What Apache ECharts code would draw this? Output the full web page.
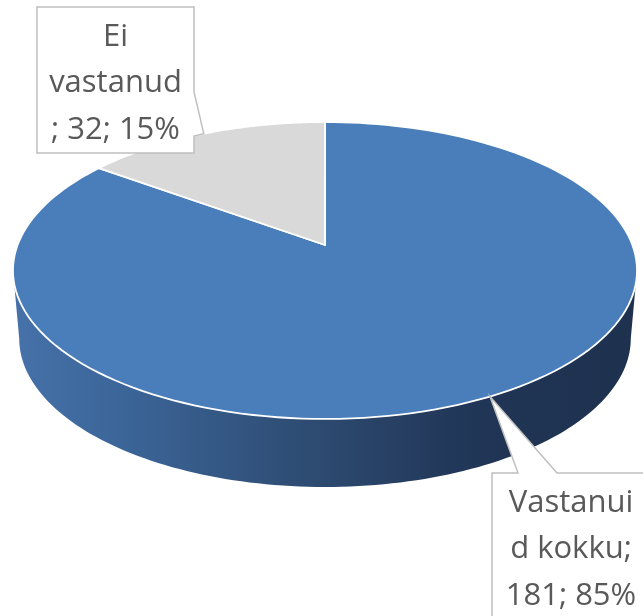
<!DOCTYPE html>
<html>
<head>
<meta charset="utf-8">
<script src="https://cdn.jsdelivr.net/npm/echarts@6/dist/echarts.min.js"></script>
<style>
html, body { margin: 0; padding: 0; background: #fff; }
#chart { width: 643px; height: 616px; }
</style>
</head>
<body>
<div id="chart"></div>
<script>
// data
const categories = ['Vastanuid kokku', 'Ei vastanud'];
const values = [181, 32];
// where Excel wrapped each label (char index of the line breaks)
const labelBreaks = [[8, 16], [2, 11]];

const sliceColors = ['#4a7ebb', '#d9d9d9'];
const wallStops = [
    { offset: 0, color: '#4672aa' },
    { offset: 0.17, color: '#3c6699' },
    { offset: 0.49, color: '#2d4a70' },
    { offset: 0.7, color: '#22385a' },
    { offset: 0.82, color: '#1f3352' },
    { offset: 1, color: '#1e3250' }
];

// callout boxes (pixels), wedge = where the pointer leaves the box
const labelBoxes = [
    { x: 492, y: 473, w: 158, h: 160, side: 'top', wedge: [518, 557] },
    { x: 37, y: 7, w: 157, h: 146, side: 'right', wedge: [92, 136] }
];

const total = values.reduce((a, b) => a + b, 0);
const K = 0.1717;          // perspective of the tilted disc
const DEPTH = 0.472;       // thickness of the pie in y units
const BOTTOM_SCALE = 0.98;

// angle in degrees, clockwise from 12 o'clock -> axis units
const project = (deg, bottom) => {
    const t = deg * Math.PI / 180;
    const u = Math.sin(t), v = Math.cos(t);
    const w = 1 + K * v;
    return bottom ? [BOTTOM_SCALE * u / w, v / w - DEPTH] : [u / w, v / w];
};

let acc = 0;
const sliceData = values.map((v, i) => {
    const start = acc / total * 360;
    acc += v;
    return [start, acc / total * 360, v, i];
});

const frontStart = Math.acos(-K) * 180 / Math.PI;
const frontEnd = 360 - frontStart;

const renderWall = (params, api) => {
    const s = Math.max(api.value(0), frontStart);
    const e = Math.min(api.value(1), frontEnd);
    if (e <= s) return { type: 'group', children: [] };
    const n = 120, pts = [];
    for (let i = 0; i <= n; i++) pts.push(api.coord(project(s + (e - s) * i / n, false)));
    for (let i = n; i >= 0; i--) pts.push(api.coord(project(s + (e - s) * i / n, true)));
    const x0 = api.coord([-1.02, 0])[0], x1 = api.coord([1.02, 0])[0];
    return {
        type: 'polygon',
        shape: { points: pts },
        style: {
            fill: { type: 'linear', x: x0, y: 0, x2: x1, y2: 0, global: true, colorStops: wallStops }
        }
    };
};

const renderTop = (params, api) => {
    const s = api.value(0), e = api.value(1), idx = api.value(3);
    const n = 160, pts = [api.coord([0, 0])];
    for (let i = 0; i <= n; i++) pts.push(api.coord(project(s + (e - s) * i / n, false)));
    return {
        type: 'polygon',
        shape: { points: pts },
        style: { fill: sliceColors[idx], stroke: '#ffffff', lineWidth: 1.8, lineJoin: 'round' }
    };
};

const renderLabel = (params, api) => {
    const s = api.value(0), e = api.value(1), v = api.value(2), idx = api.value(3);
    const tip = api.coord(project((s + e) / 2, false));
    const b = labelBoxes[idx];
    let pts;
    if (b.side === 'top') {
        pts = [[b.x, b.y], [b.wedge[0], b.y], tip, [b.wedge[1], b.y], [b.x + b.w, b.y],
               [b.x + b.w, b.y + b.h], [b.x, b.y + b.h]];
    } else {
        pts = [[b.x, b.y], [b.x + b.w, b.y], [b.x + b.w, b.wedge[0]], tip, [b.x + b.w, b.wedge[1]],
               [b.x + b.w, b.y + b.h], [b.x, b.y + b.h]];
    }
    const full = categories[idx] + '; ' + v + '; ' + Math.round(v / total * 100) + '%';
    const br = labelBreaks[idx];
    const lines = [full.slice(0, br[0]), full.slice(br[0], br[1]), full.slice(br[1])].map(t => t.trim());
    const children = [{
        type: 'polygon',
        shape: { points: pts },
        style: { fill: '#ffffff', stroke: '#bfbfbf', lineWidth: 1.5 }
    }];
    lines.forEach((t, j) => {
        children.push({
            type: 'text',
            style: {
                text: t,
                x: b.x + b.w / 2,
                y: b.y + 30 + j * 46.5,
                align: 'center',
                verticalAlign: 'middle',
                fill: '#595959',
                font: '31px "Open Sans"'
            }
        });
    });
    return { type: 'group', children: children };
};

const chart = echarts.init(document.getElementById('chart'));
chart.setOption({
    animation: false,
    backgroundColor: '#ffffff',
    grid: { left: 17.6, top: 100.9, width: 614.8, height: 288.2 },
    xAxis: { type: 'value', min: -1, max: 1, show: false },
    yAxis: { type: 'value', min: -1, max: 1, show: false },
    series: [
        { type: 'custom', name: 'wall', z: 1, clip: false, renderItem: renderWall, data: sliceData },
        { type: 'custom', name: 'top', z: 2, clip: false, renderItem: renderTop, data: sliceData },
        { type: 'custom', name: 'label', z: 3, clip: false, renderItem: renderLabel, data: sliceData }
    ]
});
</script>
</body>
</html>
